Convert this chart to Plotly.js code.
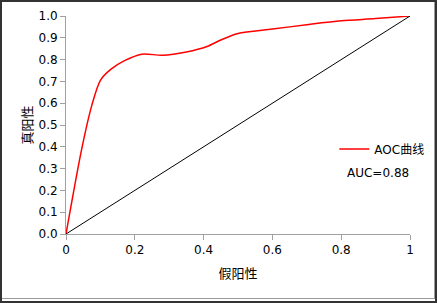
<!DOCTYPE html>
<html><head><meta charset="utf-8">
<script src="https://cdn.plot.ly/plotly-3.0.1.min.js"></script>
<style>
html,body{margin:0;padding:0;background:#fff;}
#wrap{position:absolute;left:0;top:0;width:437px;height:303px;box-sizing:border-box;border:2px solid #333;}
#inner{position:absolute;left:0;top:0;width:433px;height:297px;box-sizing:border-box;border-right:1px solid #999;border-bottom:1px solid #999;}
#chart{position:absolute;left:0;top:0;width:437px;height:303px;}
</style></head>
<body>
<div id="chart"></div>
<div id="wrap"><div id="inner"></div></div>
<script>
const fpr = [0, 0.045, 0.075, 0.1, 0.13, 0.17, 0.22, 0.28, 0.35, 0.41, 0.45, 0.5, 0.6, 0.7, 0.8, 0.9, 1];
const tpr = [0, 0.385, 0.59, 0.705, 0.755, 0.795, 0.825, 0.82, 0.835, 0.86, 0.89, 0.92, 0.94, 0.96, 0.978, 0.988, 1];
const diagX = [0, 1];
const diagY = [0, 1];
const seriesName = 'AOC曲线';
const aucLabel = 'AUC=0.88';
const xTicks = [0, 0.2, 0.4, 0.6, 0.8, 1];
const yTicks = [0, 0.1, 0.2, 0.3, 0.4, 0.5, 0.6, 0.7, 0.8, 0.9, 1.0];

const tickFont = {family: 'DejaVu Sans, Verdana, sans-serif', size: 12, color: '#000'};
const cjk = 'Noto Sans CJK SC, sans-serif';

Plotly.newPlot('chart', [
  {x: fpr, y: tpr, mode: 'lines', name: seriesName, line: {color: '#ff0000', width: 1.5, shape: 'spline', smoothing: 0.8}},
  {x: diagX, y: diagY, mode: 'lines', showlegend: false, line: {color: '#000', width: 1}}
], {
  width: 437, height: 303,
  margin: {l: 66, r: 27, t: 16, b: 69, autoexpand: false},
  paper_bgcolor: '#fff', plot_bgcolor: '#fff',
  xaxis: {range: [0, 1], tickvals: xTicks, ticktext: xTicks.map(v => String(v)), showgrid: false, zeroline: false,
    showline: true, linecolor: '#a0a0a0', linewidth: 1, ticks: 'outside', ticklen: 5, tickcolor: '#a0a0a0',
    tickfont: tickFont, title: {text: '假阳性', font: {family: cjk, size: 13, color: '#000'}, standoff: 12}},
  yaxis: {range: [0, 1], tickvals: yTicks, ticktext: yTicks.map(v => v.toFixed(1)), showgrid: false, zeroline: false,
    showline: true, linecolor: '#a0a0a0', linewidth: 1, ticks: 'outside', ticklen: 5, tickcolor: '#a0a0a0',
    tickfont: tickFont, title: {text: '真阳性', font: {family: cjk, size: 13, color: '#000'}, standoff: 2}},
  showlegend: true,
  legend: {x: 0.78, y: 0.39, xanchor: 'left', yanchor: 'middle', bgcolor: 'rgba(0,0,0,0)',
    font: {family: 'DejaVu Sans, ' + cjk, size: 12, color: '#000'}, itemwidth: 30},
  annotations: [{xref: 'paper', yref: 'paper', x: 0.81, y: 0.28, xanchor: 'left', yanchor: 'middle',
    text: aucLabel, showarrow: false, font: {family: 'DejaVu Sans, sans-serif', size: 12, color: '#000'}}]
}, {displayModeBar: false, staticPlot: true});
</script>
</body></html>
